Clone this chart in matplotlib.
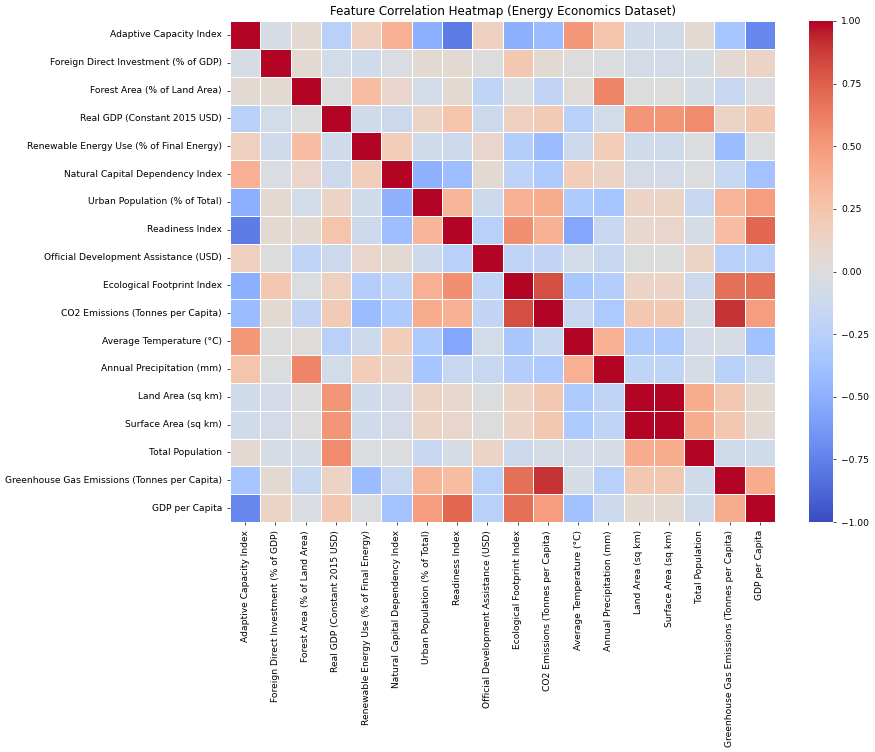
import numpy as np
import matplotlib
matplotlib.use("Agg")
import matplotlib.pyplot as plt
import seaborn as sns

features = [
    "Adaptive Capacity Index",
    "Foreign Direct Investment (% of GDP)",
    "Forest Area (% of Land Area)",
    "Real GDP (Constant 2015 USD)",
    "Renewable Energy Use (% of Final Energy)",
    "Natural Capital Dependency Index",
    "Urban Population (% of Total)",
    "Readiness Index",
    "Official Development Assistance (USD)",
    "Ecological Footprint Index",
    "CO2 Emissions (Tonnes per Capita)",
    "Average Temperature (°C)",
    "Annual Precipitation (mm)",
    "Land Area (sq km)",
    "Surface Area (sq km)",
    "Total Population",
    "Greenhouse Gas Emissions (Tonnes per Capita)",
    "GDP per Capita",
]

# upper-triangle correlations, row by row (row i, columns i+1..17)
upper_rows = [
    [-0.05, 0.05, -0.25, 0.15, 0.38, -0.50, -0.78, 0.15, -0.50, -0.42, 0.50, 0.25, -0.10, -0.10, 0.05, -0.35, -0.72],
    [0.05, -0.08, -0.10, -0.03, 0.05, 0.05, 0.00, 0.23, 0.05, 0.00, -0.01, -0.07, -0.07, -0.05, 0.05, 0.12],
    [0.00, 0.30, 0.10, -0.08, 0.05, -0.20, -0.02, -0.19, 0.02, 0.60, 0.00, 0.00, -0.05, -0.15, -0.03],
    [-0.10, -0.12, 0.12, 0.25, -0.12, 0.15, 0.20, -0.25, -0.08, 0.52, 0.52, 0.57, 0.12, 0.22],
    [0.18, -0.10, -0.12, 0.10, -0.27, -0.42, -0.12, 0.18, -0.10, -0.10, -0.02, -0.42, -0.02],
    [-0.48, -0.40, 0.05, -0.21, -0.30, 0.18, 0.12, -0.07, -0.07, -0.01, -0.15, -0.37],
    [0.35, -0.12, 0.38, 0.40, -0.30, -0.35, 0.12, 0.12, -0.15, 0.35, 0.48],
    [-0.25, 0.55, 0.37, -0.55, -0.15, 0.08, 0.10, -0.05, 0.30, 0.72],
    [-0.20, -0.18, -0.08, -0.15, -0.01, 0.00, 0.12, -0.25, -0.25],
    [0.82, -0.33, -0.27, 0.12, 0.12, -0.12, 0.68, 0.68],
    [-0.15, -0.32, 0.22, 0.22, -0.05, 0.90, 0.48],
    [0.38, -0.30, -0.30, -0.07, -0.05, -0.38],
    [-0.20, -0.20, -0.05, -0.25, -0.12],
    [0.995, 0.40, 0.22, 0.05],
    [0.40, 0.22, 0.05],
    [-0.10, -0.10],
    [0.40],
]

n = len(features)
corr = np.eye(n)
for i, row in enumerate(upper_rows):
    for k, v in enumerate(row):
        j = i + 1 + k
        corr[i, j] = v
        corr[j, i] = v

fig = plt.figure(figsize=(8.75, 7.52), dpi=100)
ax = fig.add_axes([230 / 875, 1 - 522 / 752, 545 / 875, 501 / 752])
cax = fig.add_axes([809 / 875, 1 - 522 / 752, 24 / 875, 501 / 752])

sns.heatmap(corr, ax=ax, cbar_ax=cax, cmap="coolwarm", vmin=-1, vmax=1,
            linewidths=0.5, linecolor="white",
            xticklabels=features, yticklabels=features)

fs = 6.6
ax.tick_params(axis="both", labelsize=fs, length=2.2, width=0.5)
ax.set_xticklabels(features, rotation=90, fontsize=fs)
ax.set_yticklabels(features, rotation=0, fontsize=fs)
ax.set_title("Feature Correlation Heatmap (Energy Economics Dataset)", fontsize=8.6, pad=4)

ticks = [-1, -0.75, -0.5, -0.25, 0, 0.25, 0.5, 0.75, 1.0]
cax.tick_params(labelsize=fs, length=2.2, width=0.5)
cax.set_yticks(ticks)
cax.set_yticklabels([f"{t:.2f}".replace("-", "\u2212") for t in ticks])

fig.savefig("out.png", dpi=100)
